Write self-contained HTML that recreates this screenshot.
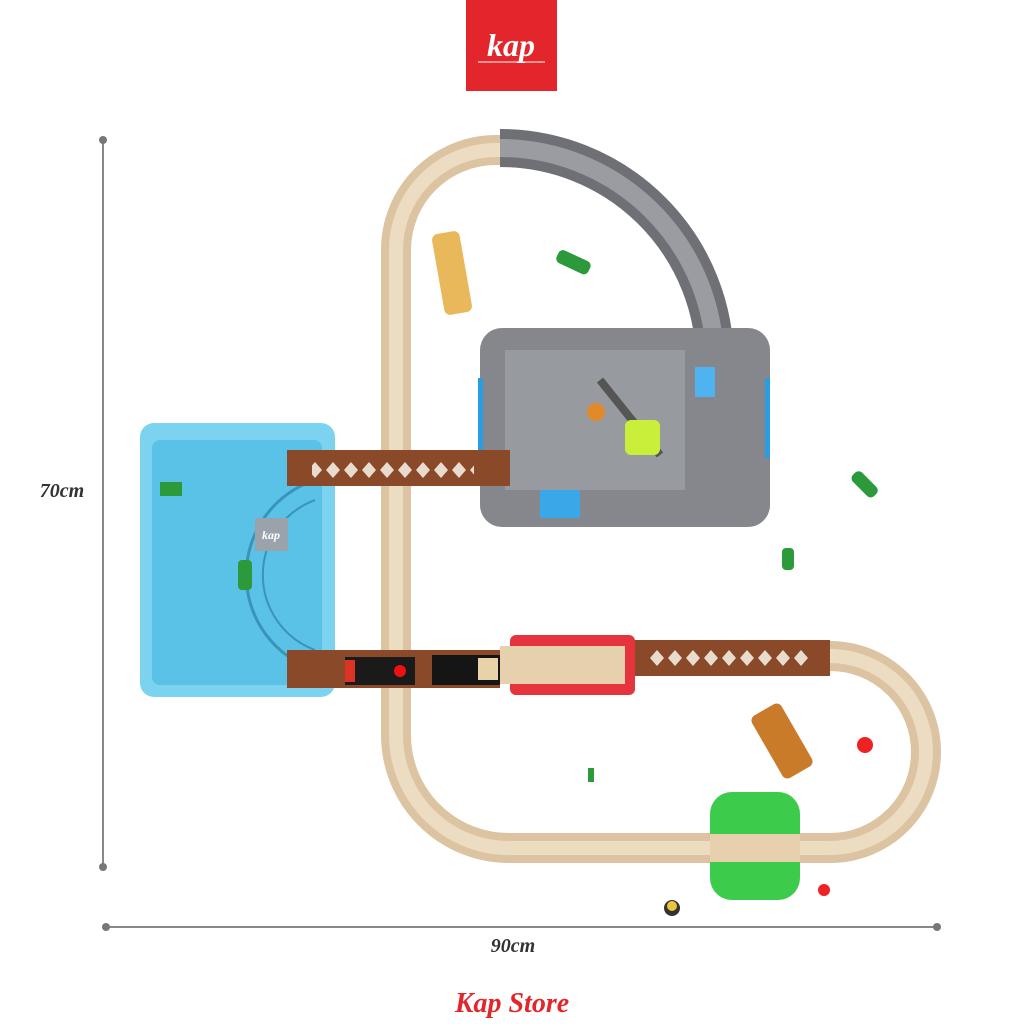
<!DOCTYPE html>
<html><head><meta charset="utf-8"><style>
html,body{margin:0;padding:0;background:#fff;width:1024px;height:1024px;overflow:hidden}
svg{display:block}
</style></head><body>
<svg width="1024" height="1024" viewBox="0 0 1024 1024" xmlns="http://www.w3.org/2000/svg">
<defs>
<pattern id="lat" x="0" y="0" width="18" height="20" patternUnits="userSpaceOnUse">
<rect width="18" height="20" fill="#8a4a2a"/>
<path d="M9 2 L16 10 L9 18 L2 10Z" fill="#e8dccf"/>
</pattern>
<pattern id="lat2" x="0" y="648" width="18" height="20" patternUnits="userSpaceOnUse">
<rect width="18" height="20" fill="#8a4a2a"/>
<path d="M9 2 L16 10 L9 18 L2 10Z" fill="#e8dccf"/>
</pattern>
</defs>
<rect x="466" y="0" width="91" height="91" fill="#e3262b"/>
<text x="511" y="56" font-family="Liberation Serif,serif" font-style="italic" font-weight="bold" font-size="32" fill="#fff" text-anchor="middle">kap</text>
<line x1="478" y1="62" x2="545" y2="62" stroke="#fff" stroke-width="1"/>

<line x1="103" y1="140" x2="103" y2="867" stroke="#888" stroke-width="2"/>
<circle cx="103" cy="140" r="4" fill="#777"/><circle cx="103" cy="867" r="4" fill="#777"/>
<text x="62" y="497" font-family="Liberation Serif,serif" font-style="italic" font-weight="bold" font-size="20" fill="#333" text-anchor="middle">70cm</text>
<line x1="106" y1="927" x2="937" y2="927" stroke="#888" stroke-width="2"/>
<circle cx="106" cy="927" r="4" fill="#777"/><circle cx="937" cy="927" r="4" fill="#777"/>
<text x="513" y="952" font-family="Liberation Serif,serif" font-style="italic" font-weight="bold" font-size="20" fill="#333" text-anchor="middle">90cm</text>
<text x="512" y="1012" font-family="Liberation Serif,serif" font-style="italic" font-weight="bold" font-size="28" fill="#e3262b" text-anchor="middle">Kap Store</text>

<path d="M500 148 A215 215 0 0 1 715 363" fill="none" stroke="#6e7076" stroke-width="38"/>
<path d="M500 148 A215 215 0 0 1 715 363" fill="none" stroke="#9a9ca2" stroke-width="18"/>

<g fill="none">
<path d="M396 690 L396 250 A100 100 0 0 1 496 150 L500 150" stroke="#dcc4a2" stroke-width="30"/>
<path d="M396 690 L396 250 A100 100 0 0 1 496 150 L500 150" stroke="#ecdcc2" stroke-width="14"/>
<path d="M396 680 L396 735 A113 113 0 0 0 509 848 L830 848 A96 96 0 0 0 830 656 L820 656" stroke="#dcc4a2" stroke-width="30"/>
<path d="M396 680 L396 735 A113 113 0 0 0 509 848 L830 848 A96 96 0 0 0 830 656 L820 656" stroke="#ecdcc2" stroke-width="14"/>
</g>

<rect x="480" y="328" width="290" height="199" rx="22" fill="#85878c"/>
<rect x="505" y="350" width="180" height="140" fill="#979a9f"/>
<rect x="478" y="378" width="5" height="80" fill="#2a9de0"/>
<rect x="765" y="378" width="5" height="80" fill="#2a9de0"/>
<rect x="540" y="490" width="40" height="28" fill="#3aa8e8"/>
<rect x="695" y="367" width="20" height="30" fill="#4fb3ef"/>
<path d="M600 380 L660 455" stroke="#555" stroke-width="8"/>
<rect x="625" y="420" width="35" height="35" rx="6" fill="#c9ef3a"/>
<circle cx="596" cy="412" r="9" fill="#e08a2a"/>

<rect x="140" y="423" width="195" height="274" rx="14" fill="#7cd3ef"/>
<rect x="152" y="440" width="170" height="245" rx="8" fill="#5ac2e6"/>
<path d="M315 480 A100 100 0 0 0 315 670" fill="none" stroke="#3a93b8" stroke-width="3"/>
<path d="M315 500 A80 80 0 0 0 315 650" fill="none" stroke="#3a93b8" stroke-width="2"/>
<rect x="255" y="518" width="33" height="33" fill="#9aa3ab"/>
<text x="271" y="539" font-family="Liberation Serif,serif" font-style="italic" font-weight="bold" font-size="12" fill="#fff" text-anchor="middle">kap</text>
<rect x="238" y="560" width="14" height="30" rx="4" fill="#2c9a3a"/>
<rect x="160" y="482" width="22" height="14" fill="#2c9a3a"/>

<rect x="287" y="450" width="223" height="36" fill="#8a4a2a"/>
<rect x="312" y="458" width="162" height="20" fill="url(#lat)" transform="translate(0,0)"/>
<rect x="287" y="650" width="213" height="38" fill="#8a4a2a"/>
<rect x="625" y="640" width="205" height="36" fill="#8a4a2a"/>
<rect x="648" y="648" width="162" height="20" fill="url(#lat2)"/>
<rect x="510" y="635" width="125" height="60" rx="6" fill="#e5343d"/>
<rect x="500" y="646" width="125" height="38" fill="#e6d0ae"/>
<rect x="345" y="657" width="70" height="28" fill="#1a1a1a"/>
<rect x="345" y="660" width="10" height="22" fill="#d32"/>
<circle cx="400" cy="671" r="6" fill="#e11"/>
<rect x="432" y="655" width="68" height="30" fill="#151515"/>
<rect x="478" y="658" width="20" height="22" fill="#e8d2a8"/>

<rect x="710" y="792" width="90" height="108" rx="22" fill="#3ccb4a"/>
<rect x="710" y="834" width="90" height="28" fill="#e6d0ae"/>

<rect x="438" y="232" width="28" height="82" rx="6" fill="#e8b85a" transform="rotate(-10 452 273)"/>
<rect x="765" y="705" width="34" height="72" rx="6" fill="#c97b2a" transform="rotate(-30 782 741)"/>
<circle cx="865" cy="745" r="8" fill="#e22"/>
<rect x="556" y="255" width="35" height="14" rx="5" fill="#2c9a3a" transform="rotate(25 573 262)"/>
<rect x="850" y="478" width="30" height="13" rx="5" fill="#2c9a3a" transform="rotate(45 865 484)"/>
<rect x="782" y="548" width="12" height="22" rx="4" fill="#2c9a3a"/>
<rect x="588" y="768" width="6" height="14" fill="#2c9a3a"/>
<circle cx="672" cy="908" r="8" fill="#333"/><circle cx="672" cy="906" r="5" fill="#e8c53a"/>
<circle cx="824" cy="890" r="6" fill="#e22"/>
</svg>
</body></html>
